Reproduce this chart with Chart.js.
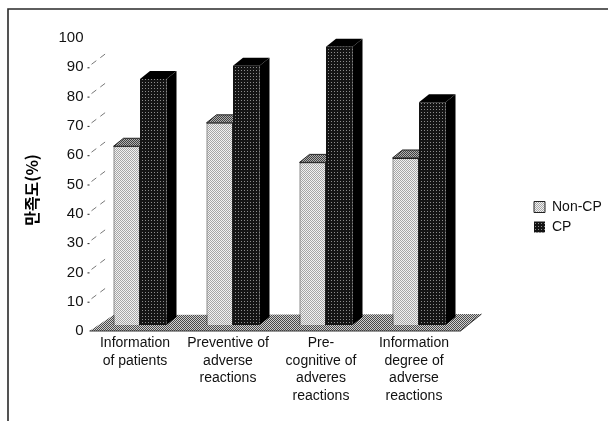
<!DOCTYPE html>
<html>
<head>
<meta charset="utf-8">
<script src="https://cdn.jsdelivr.net/npm/chart.js@4"></script>
<style>
  html, body { margin: 0; padding: 0; background: #fff; }
  canvas { display: block; }
</style>
</head>
<body>
<canvas id="myChart" width="608" height="421"></canvas>
<script>
var categories = [
  ['Information', 'of patients'],
  ['Preventive of', 'adverse', 'reactions'],
  ['Pre-', 'cognitive of', 'adveres', 'reactions'],
  ['Information', 'degree of', 'adverse', 'reactions']
];
var nonCpValues = [61, 69, 55.5, 57];
var cpValues = [84, 88.5, 95, 76];
var seriesNames = ['Non-CP', 'CP'];
var yAxisTitle = '만족도(%)';

// halftone fills, the reference is a scanned print
function halftone(size, bg, dot, cells) {
  var c = document.createElement('canvas');
  c.width = size;
  c.height = size;
  var g = c.getContext('2d');
  g.fillStyle = bg;
  g.fillRect(0, 0, size, size);
  g.fillStyle = dot;
  cells.forEach(function(p) { g.fillRect(p[0], p[1], 1, 1); });
  return g.createPattern(c, 'repeat');
}
var lightFill = halftone(2, '#f2f2f2', '#a6a6a6', [[0, 0], [1, 1]]);
var darkFill = halftone(3, '#141414', '#8c8c8c', [[1, 1]]);
var floorFill = halftone(2, '#d0d0d0', '#4a4a4a', [[0, 0], [1, 1]]);
var lightTop = halftone(2, '#b0b0b0', '#404040', [[0, 0], [1, 1]]);

var depthX = 10, depthY = 8, liftY = 6;

function poly(ctx, pts, fill, stroke) {
  ctx.beginPath();
  ctx.moveTo(pts[0][0], pts[0][1]);
  for (var i = 1; i < pts.length; i++) ctx.lineTo(pts[i][0], pts[i][1]);
  ctx.closePath();
  ctx.fillStyle = fill;
  ctx.fill();
  if (stroke) {
    ctx.strokeStyle = stroke;
    ctx.lineWidth = 1;
    ctx.stroke();
  }
}

// side and top faces of one series, taken from the bar elements
function drawFaces(ctx, meta, isDark) {
  ctx.save();
  meta.data.forEach(function(bar) {
    var p = bar.getProps(['x', 'y', 'base', 'width'], true);
    var l = p.x - p.width / 2, r = p.x + p.width / 2;
    poly(ctx, [
      [r, p.y], [r + depthX, p.y - depthY], [r + depthX, p.base - depthY], [r, p.base]
    ], '#000');
    poly(ctx, [
      [l, p.y], [l + depthX, p.y - depthY], [r + depthX, p.y - depthY], [r, p.y]
    ], isDark ? '#000' : lightTop, isDark ? null : '#222');
  });
  ctx.restore();
}

var scenePlugin = {
  id: 'scene',
  afterLayout: function(chart) {
    var lg = chart.legend;
    lg.left = 528;
    lg.right = 608;
    lg.width = 80;
    lg.top = 194;
    lg.bottom = 421;
    lg.height = 227;
  },
  beforeDraw: function(chart) {
    var ctx = chart.ctx, y = chart.scales.y, a = chart.chartArea;
    ctx.save();
    // frame, only top and left survive in the scan
    ctx.strokeStyle = '#2a2a2a';
    ctx.lineWidth = 1.6;
    ctx.beginPath();
    ctx.moveTo(608, 9);
    ctx.lineTo(8, 9);
    ctx.lineTo(8, 421);
    ctx.stroke();

    // side wall grid
    ctx.strokeStyle = '#777';
    ctx.lineWidth = 1;
    y.ticks.forEach(function(t) {
      if (t.value === 0 || t.value === 100) return;
      var py = y.getPixelForValue(t.value) + liftY;
      ctx.fillStyle = '#222';
      ctx.fillRect(a.left - 6, py, 2, 1);
      ctx.setLineDash([6, 5]);
      ctx.beginPath();
      ctx.moveTo(a.left - 2, py - 3);
      ctx.lineTo(a.left + 14, py - 15);
      ctx.stroke();
      ctx.setLineDash([]);
    });

    // floor
    var base = y.getPixelForValue(0);
    poly(ctx, [
      [a.left - 4, base + liftY],
      [a.left + 20, base - 10],
      [a.right + 16, base - 11],
      [a.right - 5, base + liftY]
    ], floorFill);
    ctx.strokeStyle = '#333';
    ctx.beginPath();
    ctx.moveTo(a.left - 4, base + liftY);
    ctx.lineTo(a.right - 5, base + liftY);
    ctx.lineTo(a.right + 16, base - 11);
    ctx.stroke();
    ctx.restore();
  },
  // CP has to sit in front of Non-CP, chart.js paints them the other way round
  beforeDatasetDraw: function(chart, args) {
    if (args.index === 1) return false;
    drawFaces(chart.ctx, args.meta, false);
  },
  afterDatasetDraw: function(chart, args) {
    if (args.index !== 0) return;
    var dark = chart.getDatasetMeta(1);
    drawFaces(chart.ctx, dark, true);
    dark.controller.draw();
  },
  afterDraw: function(chart) {
    var ctx = chart.ctx;
    ctx.save();
    ctx.translate(32, 190);
    ctx.rotate(-Math.PI / 2);
    ctx.fillStyle = '#000';
    ctx.font = 'bold 16px "Noto Sans CJK KR"';
    ctx.textAlign = 'center';
    ctx.textBaseline = 'middle';
    ctx.fillText(yAxisTitle, 0, 0);
    ctx.restore();
  }
};

var ctx = document.getElementById('myChart').getContext('2d');
var myChart = new Chart(ctx, {
  type: 'bar',
  data: {
    labels: categories,
    datasets: [{
      label: seriesNames[0],
      data: nonCpValues,
      backgroundColor: lightFill,
      borderColor: '#222',
      borderWidth: 1,
      categoryPercentage: 0.57,
      barPercentage: 1
    },
    {
      label: seriesNames[1],
      data: cpValues,
      backgroundColor: darkFill,
      borderColor: '#111',
      borderWidth: 0,
      categoryPercentage: 0.57,
      barPercentage: 1
    }]
  },
  options: {
    responsive: false,
    animation: false,
    layout: {
      autoPadding: false,
      padding: { left: 0, right: 142.5, top: 32, bottom: 0 }
    },
    scales: {
      x: {
        grid: { display: false, drawTicks: false },
        border: { display: false },
        afterFit: function(scale) { scale.height = 96; },
        ticks: {
          color: '#111',
          padding: 9,
          labelOffset: -5,
          maxRotation: 0,
          autoSkip: false,
          font: { family: 'Liberation Sans', size: 14, lineHeight: 1.27 }
        }
      },
      y: {
        min: 0,
        max: 100,
        grid: { display: false, drawTicks: false },
        border: { display: false },
        afterFit: function(scale) { scale.width = 93.5; },
        ticks: {
          color: '#111',
          stepSize: 10,
          padding: 10,
          labelOffset: 6,
          autoSkip: false,
          font: { family: 'Liberation Sans', size: 15 }
        }
      }
    },
    plugins: {
      tooltip: { enabled: false },
      legend: {
        position: 'chartArea',
        align: 'start',
        labels: {
          color: '#111',
          boxWidth: 11,
          boxHeight: 11,
          padding: 6,
          font: { family: 'Liberation Sans', size: 14 }
        }
      }
    }
  },
  plugins: [scenePlugin]
});
</script>
</body>
</html>
